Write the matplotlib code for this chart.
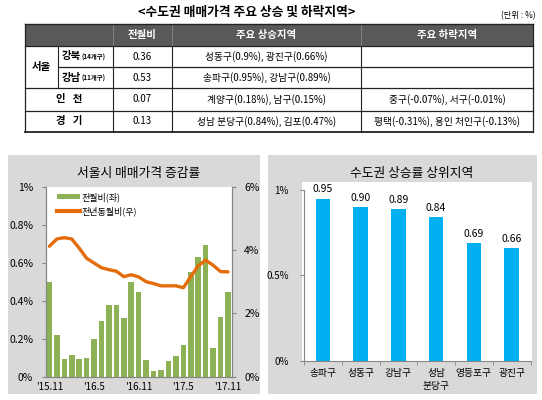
#!/usr/bin/env python3

import numpy as np
import matplotlib
matplotlib.use('Agg')
import matplotlib.pyplot as plt
from matplotlib.patches import Rectangle
from matplotlib.lines import Line2D

plt.rcParams['font.family'] = ['Noto Sans CJK KR', 'DejaVu Sans']

# ---- table data ----
table_title = '<수도권 매매가격 주요 상승 및 하락지역>'
table_unit = '(단위 : %)'
table_header = ['전월비', '주요 상승지역', '주요 하락지역']
table_group = ['서울', '인   천', '경   기']
table_region = ['강북', '강남']
table_region_sub = ['(14개구)', '(11개구)']
table_mom = ['0.36', '0.53', '0.07', '0.13']
table_up = ['성동구(0.9%), 광진구(0.66%)', '송파구(0.95%), 강남구(0.89%)',
            '계양구(0.18%), 남구(0.15%)', '성남 분당구(0.84%), 김포(0.47%)']
table_down = ['', '', '중구(-0.07%), 서구(-0.01%)', '평택(-0.31%), 용인 처인구(-0.13%)']

# ---- left chart data (2015.11 ~ 2017.11) ----
seoul_title = '서울시 매매가격 증감률'
month_tick_pos = [0, 6, 12, 18, 24]
month_tick_labels = ["'15.11", "'16.5", "'16.11", "'17.5", "'17.11"]
seoul_mom = [0.50, 0.22, 0.095, 0.115, 0.095, 0.10, 0.20, 0.295, 0.375, 0.38,
             0.31, 0.50, 0.445, 0.09, 0.03, 0.035, 0.085, 0.11, 0.165, 0.55,
             0.63, 0.695, 0.15, 0.315, 0.445]
seoul_yoy = [4.12, 4.35, 4.39, 4.35, 4.06, 3.74, 3.59, 3.44, 3.38, 3.33,
             3.16, 3.22, 3.15, 3.00, 2.94, 2.87, 2.87, 2.87, 2.81, 3.16,
             3.50, 3.68, 3.52, 3.32, 3.31]
legend_labels = ['전월비(좌)', '전년동월비(우)']

# ---- right chart data ----
top_title = '수도권 상승률 상위지역'
top_regions = ['송파구', '성동구', '강남구', '성남\n분당구', '영등포구', '광진구']
top_values = [0.95, 0.90, 0.89, 0.84, 0.69, 0.66]

GREEN = '#8db255'
ORANGE = '#e46c0a'
BLUE = '#00b0f0'
PANEL = '#d9d9d9'
HEAD = '#595959'
SPINE = '#868686'

W, H = 542, 400


def fig_rect(l, t, r, b):
    return [l / W, 1 - b / H, (r - l) / W, (b - t) / H]


fig = plt.figure(figsize=(W / 100, H / 100), dpi=100)
bg = fig.add_axes([0, 0, 1, 1])
bg.set_xlim(0, W)
bg.set_ylim(H, 0)
bg.axis('off')

# ---- table ----
bg.text(247, 12, table_title, ha='center', va='center', fontsize=9.2, weight='bold')
bg.text(536, 16, table_unit, ha='right', va='center', fontsize=6)

cols = [25, 57.7, 113, 172, 361, 533]
rows = [24.3, 45.7, 67.3, 88, 110.7, 132]
bg.add_patch(Rectangle((cols[0], rows[0]), cols[-1] - cols[0], rows[1] - rows[0],
                       facecolor=HEAD, edgecolor='none'))
for cx in cols[2:5]:
    bg.plot([cx, cx], [rows[0], rows[1]], color='#8a8a8a', lw=0.6)
hx = [(cols[2] + cols[3]) / 2, (cols[3] + cols[4]) / 2, (cols[4] + cols[5]) / 2]
for x, t in zip(hx, table_header):
    bg.text(x, (rows[0] + rows[1]) / 2, t, ha='center', va='center', color='white',
            fontsize=7.5, weight='bold')

lc = '#222222'
bg.plot([cols[0], cols[-1]], [rows[0], rows[0]], color=lc, lw=1.0)
bg.plot([cols[0], cols[-1]], [rows[-1], rows[-1]], color=lc, lw=1.3)
for i, y in enumerate(rows[1:-1]):
    x0 = cols[1] if i == 1 else cols[0]
    bg.plot([x0, cols[-1]], [y, y], color=lc, lw=0.9)
for cx in [cols[0], cols[-1]]:
    bg.plot([cx, cx], [rows[0], rows[-1]], color=lc, lw=0.9)
bg.plot([cols[1], cols[1]], [rows[1], rows[3]], color=lc, lw=0.8)
for cx in cols[2:5]:
    bg.plot([cx, cx], [rows[1], rows[-1]], color=lc, lw=0.8)

rc = [(rows[i] + rows[i + 1]) / 2 for i in range(1, 5)]
bg.text((cols[0] + cols[1]) / 2, rows[3] - (rows[3] - rows[1]) / 2, table_group[0],
        ha='center', va='center', fontsize=7.5, weight='bold')
for i in range(2):
    t = bg.text(62, rc[i], table_region[i], ha='left', va='center', fontsize=7.5,
                weight='bold')
    bg.annotate(table_region_sub[i], xy=(1, 0.5), xycoords=t, xytext=(0.5, -0.5),
                textcoords='offset points', ha='left', va='center', fontsize=4.6,
                weight='bold')
for i in range(2):
    bg.text((cols[0] + cols[2]) / 2, rc[i + 2], table_group[i + 1], ha='center',
            va='center', fontsize=7.5, weight='bold')
for i in range(4):
    bg.text(hx[0], rc[i], table_mom[i], ha='center', va='center', fontsize=7)
    bg.text(hx[1], rc[i], table_up[i], ha='center', va='center', fontsize=7)
    bg.text(hx[2], rc[i], table_down[i], ha='center', va='center', fontsize=7)

# ---- panels ----
bg.add_patch(Rectangle((8, 155), 252, 239, facecolor=PANEL, edgecolor='none'))
bg.add_patch(Rectangle((268, 155), 269, 239, facecolor=PANEL, edgecolor='none'))
bg.add_patch(Rectangle((302, 182), 230, 180, facecolor='white', edgecolor='none'))
bg.text(139, 174, seoul_title, ha='center', va='center', fontsize=9.2)
bg.text(412, 174, top_title, ha='center', va='center', fontsize=9.2)

# ---- left chart ----
ax = fig.add_axes(fig_rect(45.7, 186.7, 231.7, 376.7))
x = np.arange(len(seoul_mom))
ax.bar(x, seoul_mom, width=0.75, color=GREEN)
ax.set_xlim(-0.5, len(seoul_mom) - 0.5)
ax.set_ylim(0, 1)
ax.set_yticks(np.arange(0, 1.01, 0.2))
ax.set_yticklabels(['0%', '0.2%', '0.4%', '0.6%', '0.8%', '1%'])
ax.set_xticks(month_tick_pos)
ax.set_xticklabels(month_tick_labels)
ax.tick_params(axis='x', length=0, labelsize=7, pad=4)
ax.tick_params(axis='y', length=3, color=SPINE, labelsize=7.5, pad=6)
ax.spines['top'].set_visible(False)
for s in ['left', 'bottom', 'right']:
    ax.spines[s].set_color(SPINE)
    ax.spines[s].set_linewidth(0.8)

ax2 = ax.twinx()
ax2.plot(x, seoul_yoy, color=ORANGE, lw=2.4, solid_capstyle='round')
ax2.set_ylim(0, 6)
ax2.set_yticks([0, 2, 4, 6])
ax2.set_yticklabels(['0%', '2%', '4%', '6%'])
ax2.tick_params(axis='y', length=3, color=SPINE, labelsize=7.5, pad=6)
ax2.spines['top'].set_visible(False)
for s in ['left', 'bottom', 'right']:
    ax2.spines[s].set_color(SPINE)
    ax2.spines[s].set_linewidth(0.8)

handles = [Rectangle((0, 0), 1, 1, facecolor=GREEN, edgecolor='none'),
           Line2D([0], [0], color=ORANGE, lw=3)]
ax2.legend(handles, legend_labels, loc='upper left', bbox_to_anchor=(0.04, 0.99),
           frameon=False, fontsize=6.5, handlelength=2.6, handleheight=0.45,
           handletextpad=0.15, labelspacing=0.45, borderaxespad=0)

# ---- right chart ----
ax3 = fig.add_axes(fig_rect(304, 190, 530.5, 360.7))
ax3.patch.set_alpha(0)
xr = np.arange(len(top_values))
ax3.bar(xr, top_values, width=0.38, color=BLUE)
for xi, v in zip(xr, top_values):
    ax3.text(xi, v + 0.025, f'{v:.2f}', ha='center', va='bottom', fontsize=7.5)
ax3.set_xlim(-0.5, len(top_values) - 0.5)
ax3.set_ylim(0, 1)
ax3.set_yticks([0, 0.5, 1])
ax3.set_yticklabels(['0%', '0.5%', '1%'])
ax3.set_xticks(xr)
ax3.set_xticklabels(top_regions, fontsize=7, linespacing=1.4, va='top')
ax3.set_xticks(np.arange(-0.5, len(top_values)), minor=True)
ax3.tick_params(axis='x', which='major', length=0, pad=5)
ax3.tick_params(axis='x', which='minor', length=3, color=SPINE)
ax3.tick_params(axis='y', length=3, color=SPINE, labelsize=7, pad=8)
for s in ['top', 'right']:
    ax3.spines[s].set_visible(False)
for s in ['left', 'bottom']:
    ax3.spines[s].set_color(SPINE)
    ax3.spines[s].set_linewidth(0.8)

fig.savefig('out.png', dpi=100)
